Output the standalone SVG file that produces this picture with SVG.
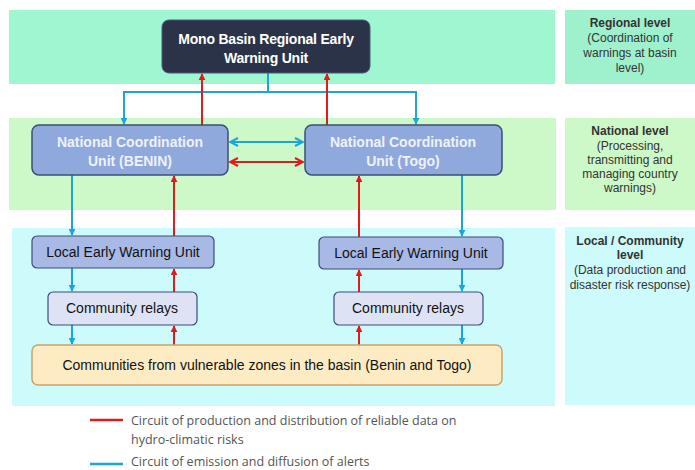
<svg xmlns="http://www.w3.org/2000/svg" width="695" height="470" viewBox="0 0 695 470">
<defs>
<style>
.t{font-family:"Liberation Sans",Arial,sans-serif}
.lvl{font-family:"Liberation Sans",Arial,sans-serif;font-size:12px;fill:#333;text-anchor:middle}
.lvlb{font-weight:bold}
.blue{stroke:#1aa6dc;stroke-width:2;fill:none}
.red{stroke:#e01b1b;stroke-width:2;fill:none}
.nodeTxt{font-family:"Liberation Sans",Arial,sans-serif;font-size:14px;fill:#111;text-anchor:middle}
.natTxt{font-family:"Liberation Sans",Arial,sans-serif;font-size:14px;font-weight:bold;fill:#eef1f8;text-anchor:middle}
.leg{font-family:"Open Sans","Noto Sans",sans-serif;font-size:12.5px;fill:#555}
</style>
<marker id="ab" viewBox="0 0 10 10" refX="9" refY="5" markerWidth="7" markerHeight="7" orient="auto-start-reverse" markerUnits="userSpaceOnUse"><path d="M0,0 L10,5 L0,10 z" fill="#1aa6dc"/></marker>
<marker id="ar" viewBox="0 0 10 10" refX="9" refY="5" markerWidth="7" markerHeight="7" orient="auto-start-reverse" markerUnits="userSpaceOnUse"><path d="M0,0 L10,5 L0,10 z" fill="#e01b1b"/></marker>
<marker id="abo" viewBox="0 0 10 10" refX="9" refY="5" markerWidth="10" markerHeight="10" orient="auto-start-reverse" markerUnits="userSpaceOnUse"><path d="M1,1 L9,5 L1,9" fill="none" stroke="#1aa6dc" stroke-width="2"/></marker>
<marker id="aro" viewBox="0 0 10 10" refX="9" refY="5" markerWidth="10" markerHeight="10" orient="auto-start-reverse" markerUnits="userSpaceOnUse"><path d="M1,1 L9,5 L1,9" fill="none" stroke="#e01b1b" stroke-width="2"/></marker>
</defs>
<rect width="695" height="470" fill="#ffffff"/>
<g id="bands">
<rect x="9" y="10" width="546" height="74" fill="#9ff7d1"/>
<rect x="9" y="118" width="547" height="92" fill="#cdf8c8"/>
<rect x="12" y="228" width="543" height="178" fill="#cdfafa"/>
<rect x="565" y="10" width="130" height="74" fill="#9ff0cc"/>
<rect x="565" y="118" width="130" height="92" fill="#cdf8c8"/>
<rect x="565" y="227" width="130" height="178" fill="#cdfafa"/>
</g>
<g id="level-regional">
<text class="lvl" x="630" y="27"><tspan class="lvlb">Regional  level</tspan><tspan x="630" dy="15">(Coordination of</tspan><tspan x="630" dy="15">warnings  at basin</tspan><tspan x="630" dy="15">level)</tspan></text>
</g>
<g id="level-national">
<text class="lvl" x="630" y="135"><tspan class="lvlb">National level</tspan><tspan x="630" dy="14.5">(Processing,</tspan><tspan x="630" dy="14">transmitting and</tspan><tspan x="630" dy="14">managing country</tspan><tspan x="630" dy="14">warnings)</tspan></text>
</g>
<g id="level-local">
<text class="lvl" x="630" y="245"><tspan class="lvlb">Local / Community</tspan><tspan x="630" dy="14" class="lvlb">level</tspan><tspan x="630" dy="15">(Data production and</tspan><tspan x="630" dy="14.5">disaster risk response)</tspan></text>
</g>
<g id="connectors">
<path class="blue" d="M268,73 V92 M124,92 H416" />
<path class="blue" d="M124,91 V124" marker-end="url(#ab)"/>
<path class="blue" d="M416,91 V124" marker-end="url(#ab)"/>
<path class="red" d="M202,125 V74" marker-end="url(#ar)"/>
<path class="red" d="M327,125 V74" marker-end="url(#ar)"/>
<path class="blue" d="M230,142 H303" marker-start="url(#abo)" marker-end="url(#abo)"/>
<path class="red" d="M230,162 H303" marker-start="url(#aro)" marker-end="url(#aro)"/>
<path class="blue" d="M72,175 V235" marker-end="url(#ab)"/>
<path class="red" d="M174,236 V176" marker-end="url(#ar)"/>
<path class="red" d="M359,237 V176" marker-end="url(#ar)"/>
<path class="blue" d="M462,175 V236" marker-end="url(#ab)"/>
<path class="blue" d="M72,268 V291" marker-end="url(#ab)"/>
<path class="red" d="M174,292 V269" marker-end="url(#ar)"/>
<path class="red" d="M359,292 V270" marker-end="url(#ar)"/>
<path class="blue" d="M462,269 V291" marker-end="url(#ab)"/>
<path class="blue" d="M72,325 V344" marker-end="url(#ab)"/>
<path class="red" d="M174,345 V326" marker-end="url(#ar)"/>
<path class="red" d="M359,345 V326" marker-end="url(#ar)"/>
<path class="blue" d="M462,325 V344" marker-end="url(#ab)"/>
</g>
<g id="mono">
<rect x="162" y="20" width="208" height="53" rx="7" fill="#2b3349" stroke="#4a5a7a" stroke-width="1"/>
<text class="t" x="266" y="44" font-size="14" font-weight="bold" fill="#ffffff" text-anchor="middle" letter-spacing="-0.2">Mono Basin Regional Early</text>
<text class="t" x="266" y="63" font-size="14" font-weight="bold" fill="#ffffff" text-anchor="middle" letter-spacing="-0.2">Warning Unit</text>
</g>
<g id="nat-benin">
<rect x="32" y="125" width="196" height="50" rx="7" fill="#8fa9dd" stroke="#3c4d78" stroke-width="1.5"/>
<text class="natTxt" x="130" y="147">National Coordination</text>
<text class="natTxt" x="130" y="166">Unit (BENIN)</text>
</g>
<g id="nat-togo">
<rect x="305" y="125" width="197" height="50" rx="7" fill="#8fa9dd" stroke="#3c4d78" stroke-width="1.5"/>
<text class="natTxt" x="403" y="147">National Coordination</text>
<text class="natTxt" x="403" y="166">Unit (Togo)</text>
</g>
<g id="lewu-benin">
<rect x="32" y="236" width="182" height="32" rx="5" fill="#a9b9e5" stroke="#3c4d78" stroke-width="1.2"/>
<text class="nodeTxt" x="123" y="257">Local Early Warning Unit</text>
</g>
<g id="lewu-togo">
<rect x="319" y="237" width="184" height="32" rx="5" fill="#a9b9e5" stroke="#3c4d78" stroke-width="1.2"/>
<text class="nodeTxt" x="411" y="258">Local Early Warning Unit</text>
</g>
<g id="relays-benin">
<rect x="48" y="292" width="149" height="33" rx="5" fill="#dde3f5" stroke="#3c4d78" stroke-width="1.2"/>
<text class="nodeTxt" x="122" y="313">Community relays</text>
</g>
<g id="relays-togo">
<rect x="334" y="292" width="149" height="33" rx="5" fill="#dde3f5" stroke="#3c4d78" stroke-width="1.2"/>
<text class="nodeTxt" x="408" y="313">Community relays</text>
</g>
<g id="communities">
<rect x="32" y="345" width="470" height="40" rx="6" fill="#fdebc4" stroke="#c9a46a" stroke-width="1.5"/>
<text class="nodeTxt" x="267" y="370" font-size="15">Communities from vulnerable zones in the basin (Benin and Togo)</text>
</g>
<g id="legend">
<line x1="90" y1="420" x2="123" y2="420" stroke="#e01b1b" stroke-width="2.5"/>
<text class="leg" x="131" y="425">Circuit of production and distribution of reliable data on</text>
<text class="leg" x="131" y="444">hydro-climatic risks</text>
<line x1="90" y1="464" x2="123" y2="464" stroke="#1aa6dc" stroke-width="2.5"/>
<text class="leg" x="131" y="466">Circuit of emission and diffusion of alerts</text>
</g>
</svg>
